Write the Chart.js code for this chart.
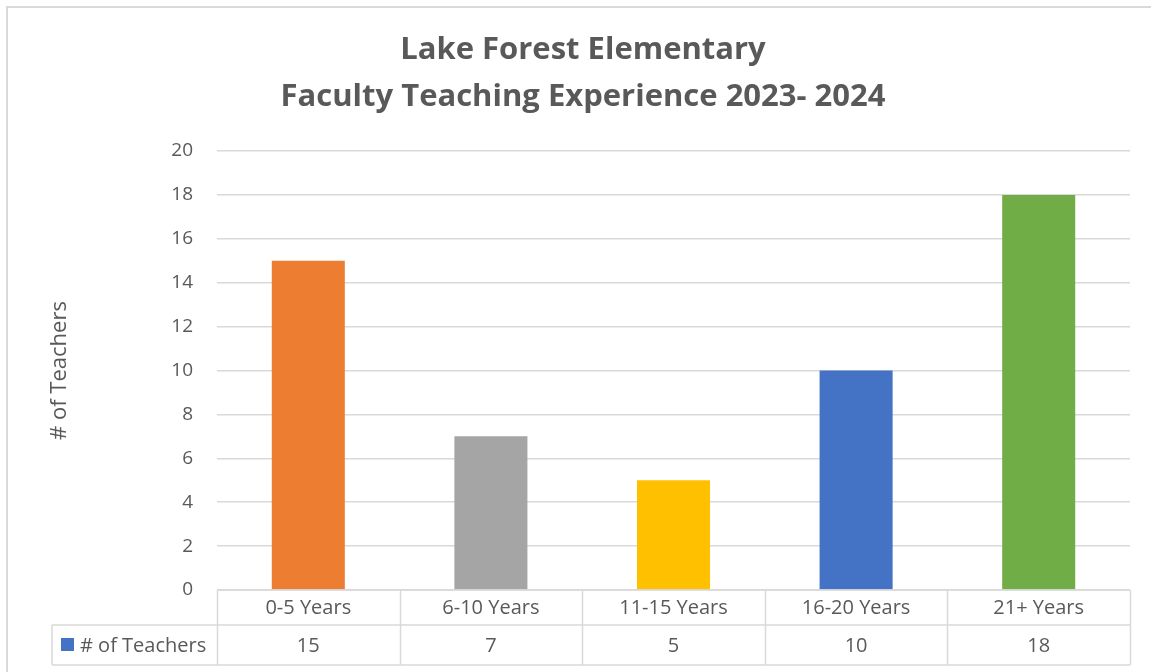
<!DOCTYPE html>
<html>
<head>
<meta charset="utf-8">
<script src="https://cdn.jsdelivr.net/npm/chart.js@4"></script>
<style>
  html, body { margin: 0; padding: 0; background: #fff; }
  #wrap { width: 1151px; height: 672px; }
</style>
</head>
<body>
<div id="wrap"><canvas id="myChart" width="1151" height="672"></canvas></div>
<script>
const categories = ['0-5 Years', '6-10 Years', '11-15 Years', '16-20 Years', '21+ Years'];
const teachers = [15, 7, 5, 10, 18];
const barColors = ['#ED7D31', '#A5A5A5', '#FFC000', '#4472C4', '#70AD47'];
const titleLines = ['Lake Forest Elementary', 'Faculty Teaching Experience 2023- 2024'];
const seriesName = '# of Teachers';

const FONT = "'Open Sans', 'Noto Sans', sans-serif";
const TEXT = '#595959';
const LINE = '#d9d9d9';

// title is drawn by hand so it can sit a bit right of the canvas centre, like the excel one
const chartTitle = {
    id: 'chartTitle',
    afterDraw(chart) {
        const c = chart.ctx;
        c.save();
        c.fillStyle = TEXT;
        c.font = 'bold 31px ' + FONT;
        c.textAlign = 'center';
        c.textBaseline = 'middle';
        titleLines.forEach((t, i) => c.fillText(t, 583, 50 + i * 47));
        c.restore();
    }
};

// data table under the plot, excel style
const dataTable = {
    id: 'dataTable',
    afterDraw(chart) {
        const c = chart.ctx;
        const area = chart.chartArea;
        const x = chart.scales.x;
        const n = categories.length;
        const step = (area.right - area.left) / n;
        const y0 = area.bottom;
        const y1 = y0 + 35;
        const y2 = y1 + 40;
        const legendLeft = 52;

        c.save();
        // outer frame
        c.strokeStyle = LINE;
        c.lineWidth = 2;
        c.strokeRect(7, 7, 1160, 700);

        c.lineWidth = 1.5;
        c.beginPath();
        c.moveTo(area.left, y0); c.lineTo(area.right, y0);
        c.moveTo(legendLeft, y1); c.lineTo(area.right, y1);
        c.moveTo(legendLeft, y2); c.lineTo(area.right, y2);
        c.moveTo(legendLeft, y1); c.lineTo(legendLeft, y2);
        for (let i = 0; i <= n; i++) {
            const px = Math.round(area.left + i * step) + 0.5;
            c.moveTo(px, y0); c.lineTo(px, y2);
        }
        c.stroke();

        c.fillStyle = TEXT;
        c.font = '20px ' + FONT;
        c.textAlign = 'center';
        c.textBaseline = 'middle';
        categories.forEach((cat, i) => {
            const cx = x.getPixelForValue(i);
            c.fillText(cat, cx, (y0 + y1) / 2 + 1);
            c.fillText(String(teachers[i]), cx, (y1 + y2) / 2 + 1);
        });

        // legend key
        c.fillStyle = '#4472C4';
        c.fillRect(61, y1 + 13, 13, 13);
        c.fillStyle = TEXT;
        c.textAlign = 'left';
        c.fillText(seriesName, 80, (y1 + y2) / 2 + 1);
        c.restore();
    }
};

const ctx = document.getElementById('myChart');

new Chart(ctx, {
    type: 'bar',
    data: {
        labels: categories,
        datasets: [{
            label: seriesName,
            data: teachers,
            backgroundColor: barColors,
            borderWidth: 0,
            barPercentage: 1,
            categoryPercentage: 0.4
        }]
    },
    options: {
        responsive: false,
        animation: false,
        layout: { padding: { left: 0, right: 21, top: 151, bottom: 0 } },
        plugins: {
            legend: { display: false },
            tooltip: { enabled: false },
            title: { display: false }
        },
        scales: {
            x: {
                ticks: { display: false },
                grid: { display: false },
                border: { display: false },
                afterFit: (s) => { s.height = 82; }
            },
            y: {
                min: 0,
                max: 20,
                ticks: {
                    stepSize: 2,
                    color: TEXT,
                    padding: 24,
                    font: { family: FONT, size: 19 }
                },
                grid: { color: LINE, lineWidth: 1.5, drawTicks: false },
                border: { display: false },
                title: {
                    display: true,
                    text: seriesName,
                    color: TEXT,
                    font: { family: FONT, size: 22 },
                    padding: { top: 47 }
                },
                afterFit: (s) => { s.width = 217; }
            }
        }
    },
    plugins: [chartTitle, dataTable]
});
</script>
</body>
</html>
